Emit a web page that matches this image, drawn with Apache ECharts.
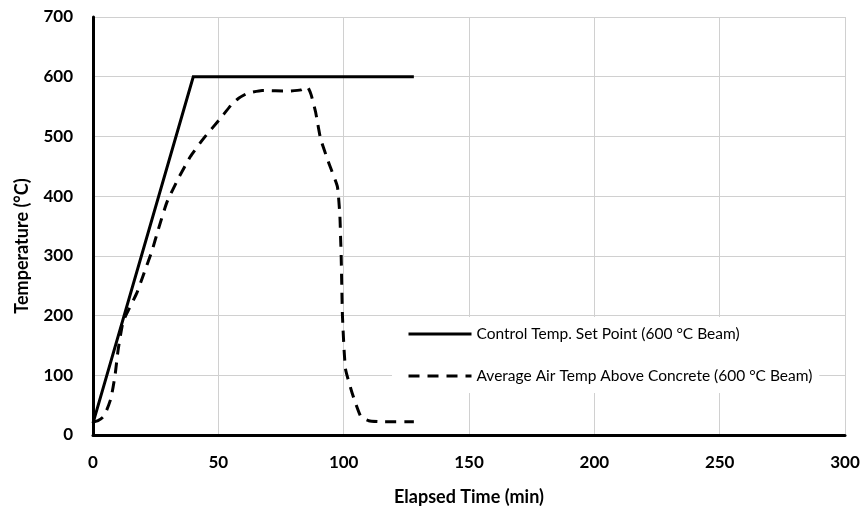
<!DOCTYPE html>
<html>
<head>
<meta charset="utf-8">
<script src="https://cdn.jsdelivr.net/npm/echarts@6/dist/echarts.min.js"></script>
<style>
  html, body { margin: 0; padding: 0; background: #fff; }
  #chart { width: 864px; height: 514px; }
</style>
</head>
<body>
<div id="chart"></div>
<script>
// Furnace control set point (minutes, °C)
const setPointTime = [0, 40, 128];
const setPointTemp = [20, 600, 600];

// Measured average air temperature above the concrete slab (minutes, °C)
const airTime = [0, 2, 4, 5.5, 7.2, 8.8, 10, 12, 14.5, 17.5, 20.1, 23.5, 26.1, 29.5,
  34.1, 38.8, 44, 50.8, 55, 58.1, 61.5, 67.5, 78, 83, 85.5, 87, 88.8, 90.8, 94.1, 97.5,
  98.5, 98.8, 99, 99.5, 100.2, 100.8, 103.4, 106.8, 110, 116, 128];
const airTemp = [22, 24, 30, 42, 62, 100, 142, 190, 212, 238, 268, 308, 345, 390,
  430, 466, 496, 530, 552, 564, 572, 577, 576, 578, 583, 570, 541, 496, 455, 416,
  366, 327, 301, 201, 140, 109, 70, 31, 24, 22, 22];

const xTicks = { min: 0, max: 300, interval: 50 };
const yTicks = { min: 0, max: 700, interval: 100 };

const seriesNames = [
  'Control Temp. Set Point (600 °C Beam)',
  'Average Air Temp Above Concrete (600 °C Beam)'
];

const pair = (xs, ys) => xs.map((x, i) => [x, ys[i]]);

const chart = echarts.init(document.getElementById('chart'), null, { renderer: 'canvas' });

const font = 'Lato, "Open Sans", sans-serif';

chart.setOption({
  animation: false,
  backgroundColor: '#ffffff',
  grid: { left: 93, right: 19, top: 17, bottom: 79 },
  xAxis: {
    type: 'value',
    min: xTicks.min, max: xTicks.max, interval: xTicks.interval,
    axisLine: { show: true, onZero: false, lineStyle: { color: '#000', width: 3 } },
    axisTick: { show: false },
    axisLabel: { color: '#000', fontFamily: font, fontWeight: 'bold', fontSize: 17, margin: 19 },
    splitLine: { show: true, lineStyle: { color: '#d0d0d0', width: 1 } }
  },
  yAxis: {
    type: 'value',
    min: yTicks.min, max: yTicks.max, interval: yTicks.interval,
    axisLine: { show: true, onZero: false, lineStyle: { color: '#000', width: 3 } },
    axisTick: { show: false },
    axisLabel: { color: '#000', fontFamily: font, fontWeight: 'bold', fontSize: 17, margin: 20 },
    splitLine: { show: true, lineStyle: { color: '#d0d0d0', width: 1 } }
  },
  legend: {
    orient: 'vertical',
    left: 392,
    top: 317,
    padding: [9, 7, 9, 15],
    itemWidth: 63,
    itemHeight: 14,
    itemGap: 26,
    itemStyle: { opacity: 0 },
    lineStyle: { width: 3 },
    backgroundColor: '#ffffff',
    textStyle: { color: '#000', fontFamily: font, fontSize: 15.5 },
    data: seriesNames
  },
  graphic: [
    {
      type: 'text',
      x: 469, y: 497,
      style: {
        text: 'Elapsed Time (min)',
        fill: '#000',
        font: 'bold 18px ' + font,
        align: 'center',
        verticalAlign: 'middle'
      }
    },
    {
      type: 'text',
      x: 22, y: 246,
      rotation: Math.PI / 2,
      style: {
        text: 'Temperature (°C)',
        fill: '#000',
        font: 'bold 18px ' + font,
        align: 'center',
        verticalAlign: 'middle'
      }
    }
  ],
  series: [
    {
      name: seriesNames[0],
      type: 'line',
      data: pair(setPointTime, setPointTemp),
      symbol: 'none',
      lineStyle: { color: '#000', width: 3, join: 'miter' },
      itemStyle: { color: '#000' },
      z: 3
    },
    {
      name: seriesNames[1],
      type: 'line',
      data: pair(airTime, airTemp),
      symbol: 'none',
      smooth: 0.15,
      lineStyle: { color: '#000', width: 3, type: [11, 8] },
      itemStyle: { color: '#000' },
      z: 3
    }
  ]
});
</script>
</body>
</html>
